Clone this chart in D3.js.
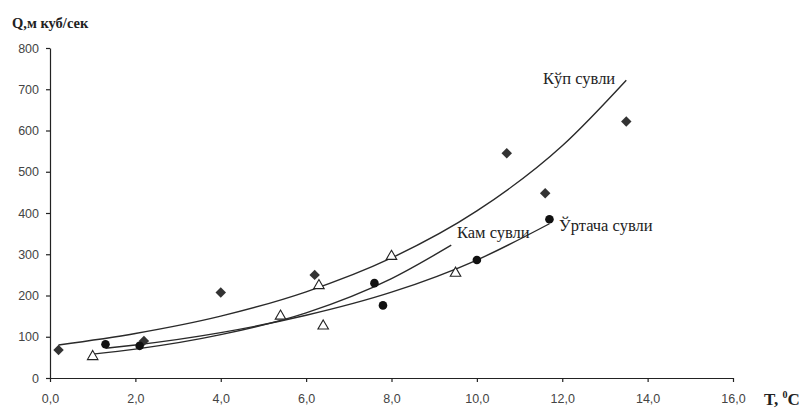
<!DOCTYPE html>
<html>
<head>
<meta charset="utf-8">
<script src="https://cdn.jsdelivr.net/npm/d3@7"></script>
<style>
  html, body { margin: 0; padding: 0; background: #fff; }
  svg { display: block; }
</style>
</head>
<body>
<svg id="chart" width="806" height="410"></svg>
<script>
// ---- data ----
const xTicks = [0, 2, 4, 6, 8, 10, 12, 14, 16];
const yTicks = [0, 100, 200, 300, 400, 500, 600, 700, 800];

// Кўп сувли (diamonds)
const kupX = [0.2, 2.2, 4.0, 6.2, 10.7, 11.6, 13.5];
const kupY = [68, 90, 207, 250, 545, 448, 622];
// Ўртача сувли (filled circles)
const urtX = [1.3, 2.1, 7.6, 7.8, 10.0, 11.7];
const urtY = [82, 78, 230, 176, 286, 385];
// Кам сувли (open triangles)
const kamX = [1.0, 5.4, 6.3, 6.4, 8.0, 9.5];
const kamY = [52, 150, 224, 126, 295, 254];

// trend curves, points
const kupTrendX = [0.2, 2, 4, 6, 8, 10, 12, 13.5];
const kupTrendY = [80, 108, 150, 209, 291, 405, 563, 722];
const urtTrendX = [1.3, 2, 4, 6, 8, 10, 11.7];
const urtTrendY = [72, 80, 110, 152, 208, 286, 374];
const kamTrendX = [1.0, 2, 4, 6, 8, 9.4];
const kamTrendY = [58, 70, 105, 158, 241, 322];

const labels = ["Кўп сувли", "Ўртача сувли", "Кам сувли"];

// ---- drawing ----
const svg = d3.select("#chart");
const x = d3.scaleLinear().domain([0, 16]).range([50, 733]);
const y = d3.scaleLinear().domain([0, 800]).range([378, 48]);

const zip = (xs, ys) => xs.map((v, i) => [v, ys[i]]);

// axes
const xAxis = d3.axisBottom(x).tickValues(xTicks).tickSize(4).tickSizeOuter(0)
  .tickFormat(d => d3.format(".1f")(d).replace(".", ","));
const yAxis = d3.axisLeft(y).tickValues(yTicks).tickSize(4).tickSizeOuter(0);

const gx = svg.append("g").attr("transform", "translate(0,378)").call(xAxis);
const gy = svg.append("g").attr("transform", "translate(50,0)").call(yAxis);
[gx, gy].forEach(g => {
  g.select(".domain").attr("stroke", "#222").attr("stroke-width", 1.2);
  g.selectAll(".tick line").attr("stroke", "#222").attr("stroke-width", 1.2);
  g.selectAll(".tick text").attr("fill", "#444")
    .style("font-family", "'Liberation Sans', Arial, sans-serif")
    .style("font-size", "12.5px");
});
gx.selectAll(".tick text").attr("dy", "1.45em");
gy.selectAll(".tick text").attr("x", -11);

// trend lines
const line = d3.line().x(d => x(d[0])).y(d => y(d[1])).curve(d3.curveMonotoneX);
[[kupTrendX, kupTrendY], [urtTrendX, urtTrendY], [kamTrendX, kamTrendY]].forEach(([xs, ys]) => {
  svg.append("path").datum(zip(xs, ys))
    .attr("d", line).attr("fill", "none")
    .attr("stroke", "#2a2a2a").attr("stroke-width", 1.4);
});

// markers
const diamond = d3.symbol().type(d3.symbolDiamond2).size(70);
svg.append("g").selectAll("path").data(zip(kupX, kupY)).join("path")
  .attr("d", diamond)
  .attr("transform", d => `translate(${x(d[0])},${y(d[1])})`)
  .attr("fill", "#333");

svg.append("g").selectAll("circle").data(zip(urtX, urtY)).join("circle")
  .attr("cx", d => x(d[0])).attr("cy", d => y(d[1])).attr("r", 4.3)
  .attr("fill", "#111");

const tri = d3.symbol().type(d3.symbolTriangle).size(48);
svg.append("g").selectAll("path").data(zip(kamX, kamY)).join("path")
  .attr("d", tri)
  .attr("transform", d => `translate(${x(d[0])},${y(d[1])})`)
  .attr("fill", "#fff").attr("stroke", "#222").attr("stroke-width", 1.1);

// curve labels
const serif = "'Liberation Serif', 'Times New Roman', serif";
const lab = svg.append("g").style("font-family", serif).style("font-size", "16.5px").attr("fill", "#222");
lab.append("text").attr("x", 543).attr("y", 84).text(labels[0]);
lab.append("text").attr("x", 559).attr("y", 231).text(labels[1]);
lab.append("text").attr("x", 457).attr("y", 238).text(labels[2]);

// axis titles
svg.append("text").attr("x", 12).attr("y", 28)
  .style("font-family", serif).style("font-weight", "bold").style("font-size", "14.5px")
  .attr("fill", "#222").text("Q,м куб/сек");

const tt = svg.append("text").attr("x", 764).attr("y", 405)
  .style("font-family", serif).style("font-weight", "bold").style("font-size", "17px")
  .attr("fill", "#222");
tt.append("tspan").text("T, ");
tt.append("tspan").attr("dy", -7).style("font-size", "10px").text("0");
tt.append("tspan").attr("dy", 7).text("C");
</script>
</body>
</html>
